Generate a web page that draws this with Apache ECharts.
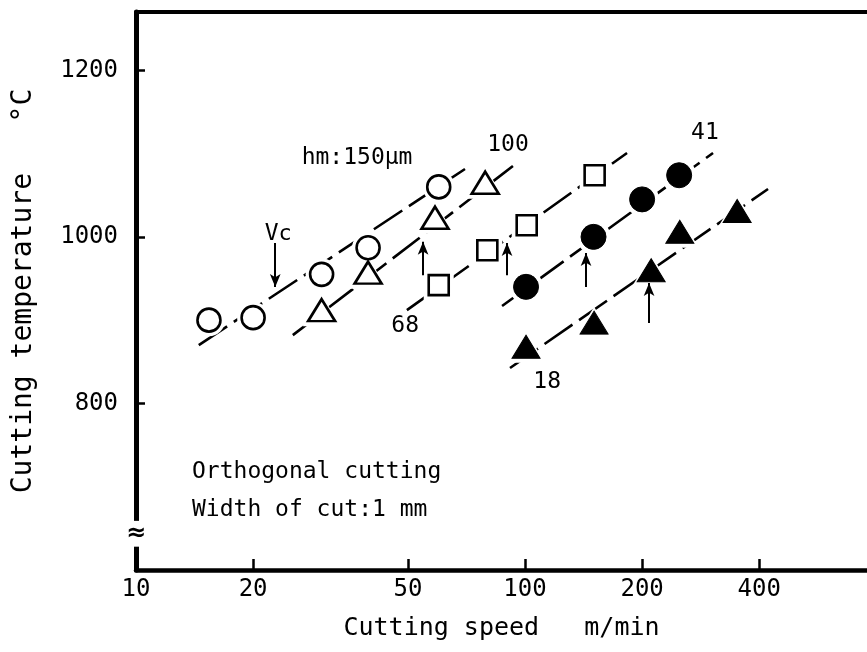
<!DOCTYPE html>
<html><head><meta charset="utf-8">
<script src="https://cdn.jsdelivr.net/npm/echarts@6/dist/echarts.min.js"></script>
<style>html,body{margin:0;padding:0;background:#fff}#c{width:867px;height:652px}</style>
</head><body><div id="c"></div>
<script>
// ---- data ----
const xTicks = [10, 20, 50, 100, 200, 400];
const yTicks = [800, 1000, 1200];
const hm150 = [[15.4, 900], [20, 903], [30, 955], [39.5, 987], [60, 1060]];
const hm100 = [[30, 912], [39.5, 957], [58.7, 1023], [79, 1065]];
const hm68  = [[60, 942], [80, 984], [101, 1014], [151, 1074]];
const hm41  = [[100.6, 940], [150, 1000], [200, 1045], [249, 1074]];
const hm18  = [[100.6, 868], [150.5, 897], [211, 960], [250, 1006], [351, 1031]];
const fit150 = [[14.5, 870], [70.1, 1081.5]];
const fit100 = [[25.3, 882], [93.1, 1085]];
const fit68  = [[49.7, 912], [182.9, 1100.7]];
const fit41  = [[87.3, 917], [304.3, 1100.7]];
const fit18  = [[91.5, 842.6], [421.4, 1057.5]];
const vcDown = [[22.8, 992.6], [22.8, 939.8]];
const vcUp = [
  [[54.7, 954], [54.7, 994]],
  [[89.9, 954], [89.9, 992.6]],
  [[143.5, 939.8], [143.5, 980.6]],
  [[208.4, 896.6], [208.4, 944.6]]
];
const notes = [
  {v: [37.0, 1095], t: 'hm:150µm', a: 'center'},
  {v: [90.4, 1110], t: '100', a: 'center'},
  {v: [49.2, 893], t: '68', a: 'center'},
  {v: [290, 1125], t: '41', a: 'center'},
  {v: [114, 826], t: '18', a: 'center'},
  {v: [23.2, 1003.5], t: 'V{s|c}', a: 'center'},
  {v: [13.93, 717.7], t: 'Orthogonal cutting', a: 'left'},
  {v: [13.93, 672], t: 'Width of cut:1 mm', a: 'left'}
];
// -----------------------------------------
const FONT = 'DejaVu Sans Mono';
const chart = echarts.init(document.getElementById('c'), null, {renderer: 'canvas'});

function lineSeries(d) {
  return {type: 'line', data: d, symbol: 'none', z: 1, silent: true,
    lineStyle: {color: '#000', width: 2.6, type: [34, 8], opacity: 1}};
}
function halo(d, sym, size) {
  return {type: 'scatter', data: d, symbol: sym, symbolSize: size, z: 2, silent: true,
    itemStyle: {color: '#fff', borderWidth: 0, opacity: 1}};
}
function marks(d, sym, size, filled) {
  return {type: 'scatter', data: d, symbol: sym, symbolSize: size, z: 3, silent: true,
    itemStyle: filled ? {color: '#000', borderColor: '#000', borderWidth: 1, opacity: 1}
                      : {color: '#fff', borderColor: '#000', borderWidth: 2.6, opacity: 1}};
}
const arrowLines = [[{coord: vcDown[0]}, {coord: vcDown[1]}]].concat(
  vcUp.map(p => [{coord: p[0]}, {coord: p[1]}]));

const option = {
  animation: false,
  backgroundColor: '#fff',
  grid: {left: 136, right: 0, top: 12, bottom: 82, containLabel: false},
  xAxis: [{
    type: 'log', logBase: 10, min: 10, max: 757,
    name: 'Cutting speed   m/min', nameLocation: 'middle', nameGap: 46,
    nameTextStyle: {fontFamily: FONT, fontSize: 25, color: '#000'},
    axisLine: {show: true, onZero: false, lineStyle: {color: '#000', width: 4.5}},
    axisTick: {show: true, inside: true, length: 11, lineStyle: {color: '#000', width: 2.5}, customValues: xTicks},
    axisLabel: {show: true, margin: 8, fontFamily: FONT, fontSize: 24, color: '#000', customValues: xTicks,
      formatter: v => String(Math.round(v))},
    splitLine: {show: false}, minorTick: {show: false}
  }, {
    type: 'log', logBase: 10, min: 10, max: 757, position: 'top',
    axisLine: {show: true, onZero: false, lineStyle: {color: '#000', width: 4}},
    axisTick: {show: false}, axisLabel: {show: false}, splitLine: {show: false}
  }],
  yAxis: {
    type: 'value', min: 600, max: 1270, interval: 200,
    name: 'Cutting temperature   °C', nameLocation: 'middle', nameGap: 98,
    nameTextStyle: {fontFamily: FONT, fontSize: 28, color: '#000'},
    axisLine: {show: true, onZero: false, lineStyle: {color: '#000', width: 5}},
    axisTick: {show: true, inside: true, length: 9, lineStyle: {color: '#000', width: 2.5}, customValues: yTicks},
    axisLabel: {show: true, margin: 18, fontFamily: FONT, fontSize: 24, color: '#000', customValues: yTicks,
      formatter: v => String(Math.round(v))},
    splitLine: {show: false}
  },
  series: [
    lineSeries(fit150), lineSeries(fit100), lineSeries(fit68), lineSeries(fit41), lineSeries(fit18),
    halo(hm150, 'circle', 32), halo(hm100, 'triangle', [38, 32]), halo(hm68, 'rect', 30),
    halo(hm41, 'circle', 34), halo(hm18, 'triangle', [38, 32]),
    marks(hm150, 'circle', 23, false), marks(hm100, 'triangle', [27, 22], false),
    marks(hm68, 'rect', 20, false), marks(hm41, 'circle', 25, true), marks(hm18, 'triangle', [28, 23], true),
    {
      type: 'scatter', data: notes.map(n => ({value: n.v, label: {formatter: n.t, align: n.a}})),
      symbolSize: 0, z: 5, silent: true, itemStyle: {opacity: 1},
      label: {show: true, position: [0, 0], verticalAlign: 'middle', fontFamily: FONT, fontSize: 23, color: '#000',
        rich: {s: {fontFamily: FONT, fontSize: 22, color: '#000', verticalAlign: 'bottom', padding: [0, 0, 0, 0]}}},
      markLine: {
        silent: true, symbol: ['none', 'arrow'], symbolSize: [8, 13],
        label: {show: false},
        lineStyle: {color: '#000', width: 2, type: 'solid', opacity: 1},
        data: arrowLines
      }
    }
  ]
};
chart.setOption(option);

// axis break mark on the y axis
const pTop = chart.convertToPixel({xAxisIndex: 0, yAxisIndex: 0}, [10, 659]);
const pBot = chart.convertToPixel({xAxisIndex: 0, yAxisIndex: 0}, [10, 628]);
chart.setOption({
  graphic: [
    {type: 'rect', shape: {x: pTop[0] - 6, y: pTop[1], width: 12, height: pBot[1] - pTop[1]},
      style: {fill: '#fff'}, z: 100},
    {type: 'text', x: pTop[0], y: (pTop[1] + pBot[1]) / 2, z: 101,
      style: {text: '≈', fontFamily: 'DejaVu Sans', fontSize: 24, fontWeight: 'bold', fill: '#000',
        align: 'center', verticalAlign: 'middle'}}
  ]
});
</script>
</body></html>
